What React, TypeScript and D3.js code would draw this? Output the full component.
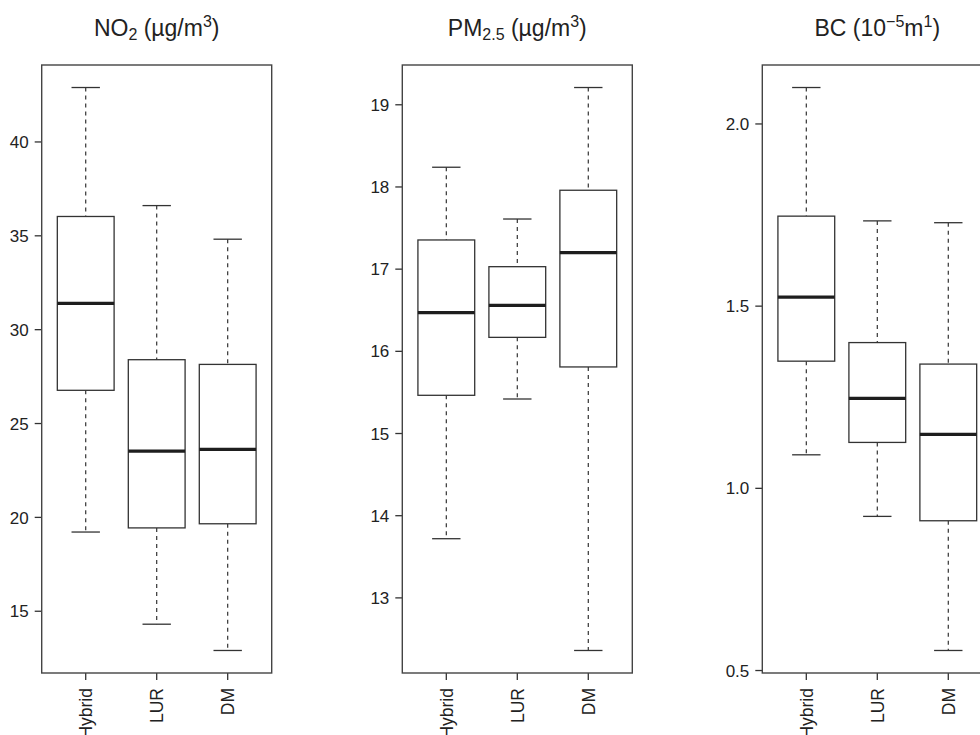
import React from "react";
import * as d3 from "d3";

const CATEGORIES = ["Hybrid", "LUR", "DM"];

// NO2 (µg/m3): five-number summaries per method
const NO2_LOW = [19.22, 14.31, 12.91];
const NO2_Q1 = [26.77, 19.44, 19.66];
const NO2_MED = [31.4, 23.53, 23.62];
const NO2_Q3 = [36.03, 28.4, 28.15];
const NO2_HIGH = [42.9, 36.61, 34.82];
const NO2_TICKS = [15, 20, 25, 30, 35, 40];

// PM2.5 (µg/m3)
const PM_LOW = [13.72, 15.42, 12.36];
const PM_Q1 = [15.465, 16.17, 15.81];
const PM_MED = [16.47, 16.56, 17.2];
const PM_Q3 = [17.355, 17.03, 17.96];
const PM_HIGH = [18.24, 17.61, 19.21];
const PM_TICKS = [13, 14, 15, 16, 17, 18, 19];

// BC (10^-5 m^-1)
const BC_LOW = [1.092, 0.923, 0.555];
const BC_Q1 = [1.349, 1.126, 0.911];
const BC_MED = [1.525, 1.247, 1.148];
const BC_Q3 = [1.747, 1.4, 1.341];
const BC_HIGH = [2.1, 1.734, 1.729];
const BC_TICKS = [0.5, 1.0, 1.5, 2.0];

const FONT = "'Liberation Sans', Arial, Helvetica, sans-serif";
const TXT = "#222";

type PanelProps = {
  left: number;
  low: number[];
  q1: number[];
  med: number[];
  q3: number[];
  high: number[];
  ticks: number[];
  fmt: (v: number) => string;
  title: React.ReactNode;
};

const TOP = 65;
const BOTTOM = 673;
const WIDTH = 230;

function Panel({ left, low, q1, med, q3, high, ticks, fmt, title }: PanelProps) {
  const lo = d3.min(low)!;
  const hi = d3.max(high)!;
  const r = hi - lo;
  const y = d3.scaleLinear().domain([lo - 0.04 * r, hi + 0.04 * r]).range([BOTTOM, TOP]);
  const n = CATEGORIES.length;
  const xr = n;
  const x = d3
    .scaleLinear()
    .domain([0.5 - 0.04 * xr, n + 0.5 + 0.04 * xr])
    .range([left, left + WIDTH]);
  const unit = x(1) - x(0);
  const bw = 0.8 * unit;
  const sw = 0.4 * unit;
  const cx = left + WIDTH / 2;
  return (
    <g>
      <text x={cx} y={36} textAnchor="middle" fontFamily={FONT} fontSize={23} fill={TXT}>
        {title}
      </text>
      {CATEGORIES.map((c, i) => {
        const xc = x(i + 1);
        return (
          <g key={c}>
            <line x1={xc} x2={xc} y1={y(high[i])} y2={y(q3[i])} stroke="#333" strokeWidth={1.2} strokeDasharray="4,4" />
            <line x1={xc} x2={xc} y1={y(q1[i])} y2={y(low[i])} stroke="#333" strokeWidth={1.2} strokeDasharray="4,4" />
            <line x1={xc - sw / 2} x2={xc + sw / 2} y1={y(high[i])} y2={y(high[i])} stroke="#333" strokeWidth={1.3} />
            <line x1={xc - sw / 2} x2={xc + sw / 2} y1={y(low[i])} y2={y(low[i])} stroke="#333" strokeWidth={1.3} />
            <rect x={xc - bw / 2} y={y(q3[i])} width={bw} height={y(q1[i]) - y(q3[i])} fill="white" stroke="#333" strokeWidth={1.3} />
            <line x1={xc - bw / 2} x2={xc + bw / 2} y1={y(med[i])} y2={y(med[i])} stroke="#1e1e1e" strokeWidth={3.2} />
            <line x1={xc} x2={xc} y1={BOTTOM} y2={BOTTOM + 7} stroke="#333" strokeWidth={1.3} />
            <text
              transform={`translate(${xc},${BOTTOM + 15}) rotate(-90)`}
              textAnchor="end"
              dy="0.36em"
              fontFamily={FONT}
              fontSize={17.5}
              fill={TXT}
            >
              {c}
            </text>
          </g>
        );
      })}
      {ticks.map((t) => (
        <g key={t}>
          <line x1={left - 7} x2={left} y1={y(t)} y2={y(t)} stroke="#333" strokeWidth={1.3} />
          <text x={left - 13} y={y(t)} dy="0.36em" textAnchor="end" fontFamily={FONT} fontSize={17} fill={TXT}>
            {fmt(t)}
          </text>
        </g>
      ))}
      <rect x={left} y={TOP} width={WIDTH} height={BOTTOM - TOP} fill="none" stroke="#444" strokeWidth={1.4} />
    </g>
  );
}

const SUB = { fontSize: 16 };

export default function App() {
  const fInt = d3.format("d");
  const f1 = d3.format(".1f");
  return (
    <svg
      width={980}
      height={735}
      viewBox="0 0 980 735"
      style={{ position: "absolute", left: 0, top: 0, background: "white" }}
    >
      <rect x={0} y={0} width={980} height={735} fill="white" />
      <Panel
        left={41.7}
        low={NO2_LOW}
        q1={NO2_Q1}
        med={NO2_MED}
        q3={NO2_Q3}
        high={NO2_HIGH}
        ticks={NO2_TICKS}
        fmt={fInt}
        title={
          <>
            <tspan>NO</tspan>
            <tspan dy={4} {...SUB}>2</tspan>
            <tspan dy={-4}> (µg/m</tspan>
            <tspan dy={-9} {...SUB}>3</tspan>
            <tspan dy={9}>)</tspan>
          </>
        }
      />
      <Panel
        left={402.3}
        low={PM_LOW}
        q1={PM_Q1}
        med={PM_MED}
        q3={PM_Q3}
        high={PM_HIGH}
        ticks={PM_TICKS}
        fmt={fInt}
        title={
          <>
            <tspan>PM</tspan>
            <tspan dy={4} {...SUB}>2.5</tspan>
            <tspan dy={-4}> (µg/m</tspan>
            <tspan dy={-9} {...SUB}>3</tspan>
            <tspan dy={9}>)</tspan>
          </>
        }
      />
      <Panel
        left={762.3}
        low={BC_LOW}
        q1={BC_Q1}
        med={BC_MED}
        q3={BC_Q3}
        high={BC_HIGH}
        ticks={BC_TICKS}
        fmt={f1}
        title={
          <>
            <tspan>BC (10</tspan>
            <tspan dy={-9} {...SUB}>−5</tspan>
            <tspan dy={9}>m</tspan>
            <tspan dy={-9} {...SUB}>1</tspan>
            <tspan dy={9}>)</tspan>
          </>
        }
      />
    </svg>
  );
}
